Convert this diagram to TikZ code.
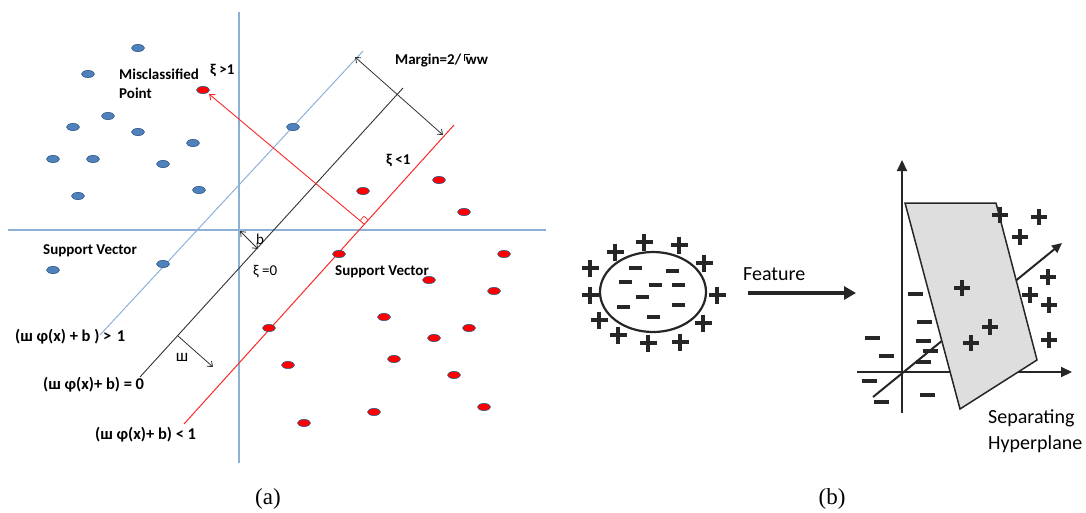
\documentclass[tikz,border=0pt]{standalone}
\usepackage{fontspec}
\setmainfont{Carlito}
\newfontfamily\capfont{Liberation Serif}
\usetikzlibrary{arrows.meta}
\definecolor{axisblue}{RGB}{141,176,217}
\definecolor{dotblue}{RGB}{79,129,189}
\definecolor{dotedge}{RGB}{56,93,138}
\definecolor{planegray}{RGB}{222,222,222}
\definecolor{hypred}{RGB}{250,40,40}
\newcommand\rootbar{\kern2.5pt\vrule width 0.8pt height 10.5pt depth -3pt\vrule width 5pt height 10.5pt depth -9.7pt\kern-4pt}
\begin{document}
\begin{tikzpicture}[x=1pt,y=-1pt,
  lbl/.style={anchor=base west, inner sep=0pt, font=\fontsize{15}{18}\selectfont\bfseries},
  eqlbl/.style={anchor=base west, inner sep=0pt, font=\fontsize{16.5}{19}\selectfont\bfseries},
  plainlbl/.style={anchor=base west, inner sep=0pt, font=\fontsize{15}{18}\selectfont},
  biglbl/.style={anchor=base west, inner sep=0pt, font=\fontsize{20}{24}\selectfont},
  caplbl/.style={inner sep=0pt, font=\capfont\fontsize{23}{27}\selectfont},
  axisline/.style={draw=axisblue, line width=1.6pt},
  thinarrow/.style={draw=black!80, line width=0.8pt},
  bluedot/.style={fill=dotblue, draw=dotedge, line width=0.6pt},
  reddot/.style={fill=red, draw=dotedge, line width=0.6pt},
  bigaxis/.style={draw=black!85, line width=2pt, -{Triangle[length=11pt,width=10pt]}},
  plusmark/.pic={\draw[line width=3.4pt, black!85] (-8.5,0)--(8.5,0) (0,-8.5)--(0,8.5);},
  minusmark/.pic={\draw[line width=3.4pt, black!85] (-6.5,0)--(6.5,0);},
  minusb/.pic={\draw[line width=3.4pt, black!85] (-7.5,0)--(7.5,0);}
]
\useasboundingbox (0,0) rectangle (1086,512);

% ---------------- panel (a): soft-margin SVM ----------------
\coordinate (vtop) at (239,12);
\coordinate (vbot) at (239,463);
\coordinate (hleft) at (8,230);
\coordinate (hright) at (546,230);
\draw[axisline] (vtop) -- (vbot);
\draw[axisline] (hleft) -- (hright);

% margin lines and hyperplane
\coordinate (blA) at (100,335);
\coordinate (blB) at (363,51);
\coordinate (hpA) at (140,377);
\coordinate (hpB) at (403,88);
\coordinate (rlA) at (184,424);
\coordinate (rlB) at (454,125);
\draw[draw=axisblue, line width=1pt] (blA) -- (blB);
\draw[draw=black!80, line width=0.9pt] (hpA) -- (hpB);
\draw[draw=hypred, line width=1pt] (rlA) -- (rlB);

% slack arrow to the misclassified point, with right-angle mark
\coordinate (slackA) at (364,224);
\coordinate (slackB) at (209,94);
\draw[draw=hypred, line width=0.9pt, -{Straight Barb[length=4.5pt,width=7pt]}] (slackA) -- (slackB);
\draw[draw=hypred, line width=0.7pt] (360,220.6) -- (364,216.3) -- (368,219.7);

% margin width, offset b and normal vector w
\coordinate (mgA) at (355,57);
\coordinate (mgB) at (443,135);
\draw[thinarrow, {Straight Barb[length=4.5pt,width=7pt]}-{Straight Barb[length=4.5pt,width=7pt]}] (mgA) -- (mgB);
\coordinate (bA) at (240,231);
\coordinate (bB) at (258,249);
\draw[thinarrow, {Straight Barb[length=4.5pt,width=7pt]}-{Straight Barb[length=4.5pt,width=7pt]}] (bA) -- (bB);
\coordinate (wA) at (178,336);
\coordinate (wB) at (213,367);
\draw[thinarrow, -{Straight Barb[length=4.5pt,width=7pt]}] (wA) -- (wB);

% class -1 samples
\foreach \p in {(138,48),(88,74),(108,116),(73,127),(138,132),(193,143),
                (53,159),(93,159),(163,164),(78,196),(199,190),(293,127),
                (53,270),(163,264)}
  \filldraw[bluedot] \p ellipse [x radius=6.5, y radius=3.6];
% class +1 samples
\foreach \p in {(203,90),(363,191),(439,180),(464,212),(339,254),(504,254),
                (429,280),(494,291),(384,317),(469,328),(269,328),(434,338),
                (394,359),(288,365),(454,375),(484,407),(374,412),(304,423)}
  \filldraw[reddot] \p ellipse [x radius=6.5, y radius=3.6];

% labels
\node[lbl] (mis1) at (119,79) {Misclassified};
\node[lbl] (mis2) at (119,98) {Point};
\node[lbl] (xigt) at (210,74) {ξ >1};
\node[lbl] (margin) at (395,64) {Margin=2/\rootbar ww};
\node[lbl] (xilt) at (386,164) {ξ <1};
\node[lbl] (sv1) at (43,254) {Support Vector};
\node[plainlbl] (xieq) at (253,275) {ξ =0};
\node[lbl] (sv2) at (335,275) {Support Vector};
\node[eqlbl] (eq1) at (15,341) {(ш φ(x) + b ) >\,\,1};
\node[eqlbl] (eq2) at (43,389) {(ш φ(x)+ b) = 0};
\node[eqlbl] (eq3) at (95,439) {(ш φ(x)+ b) < 1};
\node[inner sep=0pt, font=\fontsize{15}{18}\selectfont] (blbl) at (260,239) {b};
\node[inner sep=0pt, font=\fontsize{17}{20}\selectfont] (wlbl) at (182,357) {ш};

% ---------------- panel (b): feature map ----------------
\draw[black!85, line width=2.2pt] (653,292) ellipse [x radius=53, y radius=40];
\foreach \p in {(590,268),(615,252),(644,242),(679,245),(704,263),(717,295),
                (590,295),(599,320),(618,335),(648,343),(680,342),(703,323)}
  \pic at \p {plusmark};
\foreach \p in {(635,268),(672,271),(625,282),(655,285),(678,285),(642,297),
                (623,307),(678,305),(653,317)}
  \pic at \p {minusmark};

\node[biglbl] (feat) at (743,280) {Feature};
\coordinate (fA) at (748,293);
\coordinate (fB) at (856,293);
\draw[black!85, line width=4pt, -{Triangle[length=12pt,width=13pt]}] (fA) -- (fB);

% 3-D axes
\coordinate (zbot) at (902,413);
\coordinate (ztop) at (902,160);
\coordinate (xl) at (857,372);
\coordinate (xr) at (1072,372);
\coordinate (dA) at (873,397);
\coordinate (dB) at (1062,243);
\draw[bigaxis] (zbot) -- (ztop);
\draw[bigaxis] (xl) -- (xr);
\draw[black!85, line width=2pt, -{Triangle[length=10pt,width=9pt]}] (dA) -- (dB);

% separating hyperplane
\filldraw[fill=planegray, draw=black!85, line width=1.5pt]
  (905,203) -- (996,203) -- (1037,360) -- (960,409) -- cycle;

\foreach \p in {(1000,215),(1039,217),(1020,237),(962,288),(1048,277),
                (1030,295),(1049,305),(990,327),(971,343),(1049,340)}
  \pic[scale=0.92] at \p {plusmark};
\foreach \p in {(915,294),(924,322),(923,341),(930,351),(923,362),(872,338),
                (886,356),(869,381),(881,402),(927,395)}
  \pic at \p {minusb};

\node[biglbl] (sep1) at (988,423) {Separating};
\node[biglbl] (sep2) at (988,449) {Hyperplane};

% captions
\node[caplbl] (capa) at (268,499) {(a)};
\node[caplbl] (capb) at (832,499) {(b)};
\end{tikzpicture}
\end{document}
